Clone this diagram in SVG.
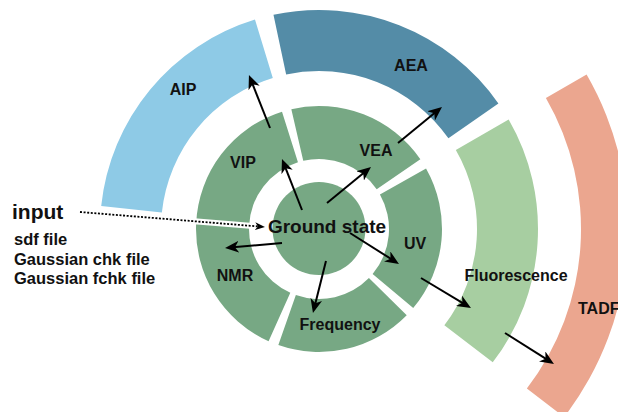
<svg xmlns="http://www.w3.org/2000/svg" width="618" height="412" viewBox="0 0 618 412">
<style>
text{font-family:"Liberation Sans",Arial,Helvetica,sans-serif;font-weight:bold;fill:#111}
.lbl{font-size:16px;text-anchor:middle}
.in{font-size:16.5px}
.g{fill:#77a884}
.arr{stroke:#000;stroke-width:2;fill:none;marker-end:url(#ah)}
</style>
<defs>
<marker id="ah" viewBox="0 0 14 12" refX="6" refY="6" markerWidth="14" markerHeight="12" markerUnits="userSpaceOnUse" orient="auto"><path d="M0,0 L14,6 L0,12 L4,6 Z" fill="#000"/></marker>
<marker id="ahs" viewBox="0 0 10 8" refX="4" refY="4" markerWidth="10" markerHeight="8" markerUnits="userSpaceOnUse" orient="auto"><path d="M0,0 L10,4 L0,8 L3,4 Z" fill="#000"/></marker>
</defs>
<rect width="618" height="412" fill="#fff"/>
<g id="tadf">
<path d="M545.9,98 L586.6,74.5 A309,309 0 0 1 564.15,417.11 L526.86,388.5 A262,262 0 0 0 545.9,98 Z" fill="#eba68f"/>
<text class="lbl" x="578" y="314" style="text-anchor:start">TADF</text>
</g>
<g id="aip">
<path d="M101.2,206.11 A219,219 0 0 1 254.97,19.57 L272.81,77.9 A158,158 0 0 0 161.87,212.48 Z" fill="#8ecae6"/>
<text class="lbl" x="183" y="95">AIP</text>
</g>
<g id="aea">
<path d="M273.47,14.79 A219,219 0 0 1 498.39,103.39 L448.43,138.37 A158,158 0 0 0 286.15,74.45 Z" fill="#548ca7"/>
<text class="lbl" x="411" y="71">AEA</text>
</g>
<g id="fluorescence">
<path d="M508.66,119.5 A219,219 0 0 1 492.74,362.32 L444.35,325.18 A158,158 0 0 0 455.83,150 Z" fill="#a7cea1"/>
<text class="lbl" x="516" y="281">Fluorescence</text>
</g>
<g id="vip">
<path class="g" d="M196.12,223.63 A123,123 0 0 1 282.01,111.69 L297.95,162.24 A70,70 0 0 0 249.07,225.95 Z"/>
<text class="lbl" x="243" y="168">VIP</text>
</g>
<g id="vea">
<path class="g" d="M291.33,109.15 A123,123 0 0 1 420.37,159.33 L376.69,189.35 A70,70 0 0 0 303.25,160.79 Z"/>
<text class="lbl" x="376" y="156">VEA</text>
</g>
<g id="uv">
<path class="g" d="M426.05,168.43 A123,123 0 0 1 413.22,308.06 L372.62,274 A70,70 0 0 0 379.93,194.53 Z"/>
<text class="lbl" x="415" y="249">UV</text>
</g>
<g id="frequency">
<path class="g" d="M406.73,315.21 A123,123 0 0 1 278.35,345.09 L295.86,295.07 A70,70 0 0 0 368.93,278.06 Z"/>
<text class="lbl" x="340" y="330">Frequency</text>
</g>
<g id="nmr">
<path class="g" d="M268.58,341.19 A123,123 0 0 1 196.12,223.63 L249.07,225.95 A70,70 0 0 0 290.31,292.85 Z"/>
<text class="lbl" x="235" y="281">NMR</text>
</g>
<g id="ground">
<circle class="g" cx="319" cy="228.5" r="46.5"/>
<text x="327" y="233" style="font-size:19px;text-anchor:middle">Ground state</text>
</g>
<g id="input">
<text x="12" y="219" style="font-size:21px">input</text>
<text class="in" x="14" y="245">sdf file</text>
<text class="in" x="14" y="265">Gaussian chk file</text>
<text class="in" x="14" y="284">Gaussian fchk file</text>
</g>
<g id="connectors">
<line x1="185" y1="220.5" x2="258" y2="226.4" stroke="#fff" stroke-width="6"/>
<line x1="80" y1="212" x2="259" y2="226.5" stroke="#000" stroke-width="1.8" stroke-dasharray="2 1.6" marker-end="url(#ahs)"/>
<line class="arr" x1="302" y1="210" x2="284.9" y2="166.4"/>
<line class="arr" x1="270" y1="128" x2="251.9" y2="82.4"/>
<line class="arr" x1="327" y1="203" x2="364.8" y2="172.1"/>
<line class="arr" x1="398" y1="143" x2="435.8" y2="112.1"/>
<line class="arr" x1="350" y1="233" x2="392.2" y2="259.7"/>
<line class="arr" x1="421" y1="278" x2="464.1" y2="303.9"/>
<line class="arr" x1="505" y1="333" x2="547.2" y2="359.7"/>
<line class="arr" x1="282" y1="243" x2="233" y2="247.3"/>
<line class="arr" x1="326" y1="261" x2="314.9" y2="305.2"/>
</g>
</svg>
